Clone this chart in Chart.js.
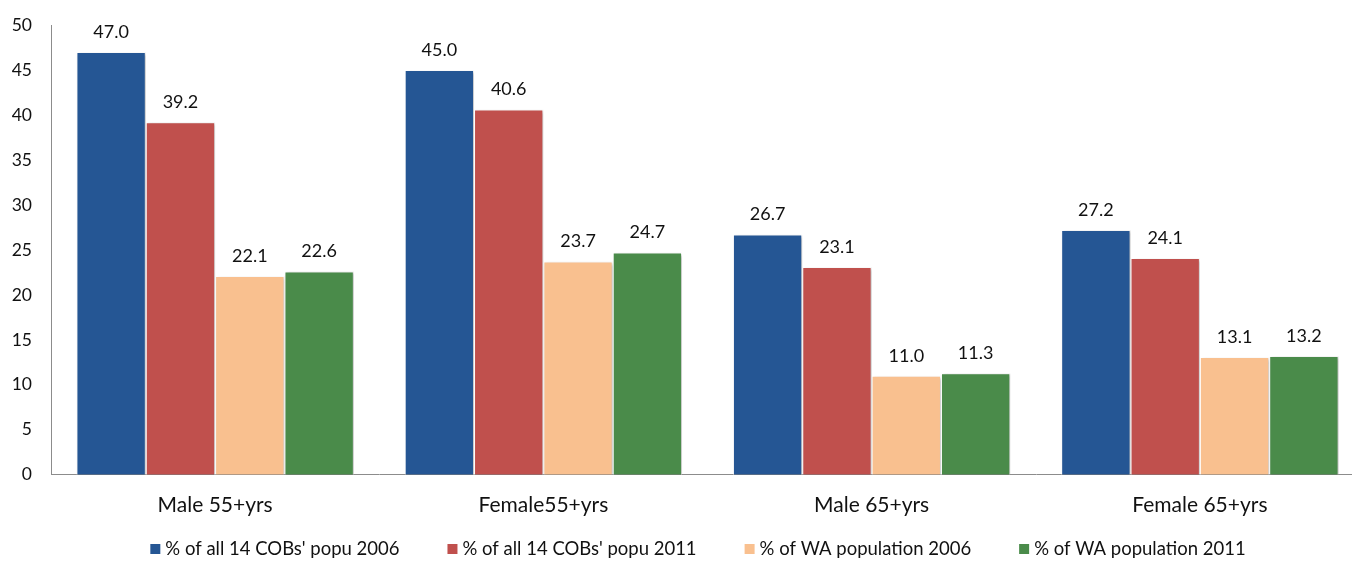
<!DOCTYPE html>
<html>
<head>
<meta charset="utf-8">
<script src="https://cdn.jsdelivr.net/npm/chart.js@4.4.1/dist/chart.umd.min.js"></script>
<style>
  html, body { margin: 0; padding: 0; background: #fff; overflow: hidden; }
  #wrap { width: 1364px; height: 561px; }
</style>
</head>
<body>
<div id="wrap"><canvas id="age-chart"></canvas></div>
<script>
var categories = ['Male 55+yrs', 'Female55+yrs', 'Male 65+yrs', 'Female 65+yrs'];
var seriesNames = [
    "% of all 14 COBs' popu 2006",
    "% of all 14 COBs' popu 2011",
    '% of WA population 2006',
    '% of WA population 2011'
];
var cobs2006 = [47.0, 45.0, 26.7, 27.2];
var cobs2011 = [39.2, 40.6, 23.1, 24.1];
var wa2006 = [22.1, 23.7, 11.0, 13.1];
var wa2011 = [22.6, 24.7, 11.3, 13.2];
var yTicks = [0, 5, 10, 15, 20, 25, 30, 35, 40, 45, 50];

var colors = ['#255694', '#c0504d', '#f9c08f', '#4a8b4a'];
var values = [cobs2006, cobs2011, wa2006, wa2011];

var FONT = 'Lato, Calibri, "Liberation Sans", sans-serif';

// soft drop shadow under the bars
var barShadow = {
    id: 'barShadow',
    beforeDatasetsDraw: function(chart) {
        var ctx = chart.ctx;
        ctx.save();
        ctx.shadowColor = 'rgba(0,0,0,0.25)';
        ctx.shadowBlur = 3;
        ctx.shadowOffsetX = 2;
        ctx.shadowOffsetY = 1;
    },
    afterDatasetsDraw: function(chart) {
        chart.ctx.restore();
    }
};

// value written above each bar
var valueLabels = {
    id: 'valueLabels',
    afterDatasetsDraw: function(chart) {
        var ctx = chart.ctx;
        ctx.save();
        ctx.font = '18px ' + FONT;
        ctx.fillStyle = '#111';
        ctx.textAlign = 'center';
        ctx.textBaseline = 'middle';
        chart.data.datasets.forEach(function(ds, i) {
            chart.getDatasetMeta(i).data.forEach(function(bar, j) {
                ctx.fillText(ds.data[j].toFixed(1), bar.x, bar.y - 20);
            });
        });
        ctx.restore();
    }
};

// legend row under the axis, wider spacing than the built-in one allows
var legendRow = {
    id: 'legendRow',
    afterDraw: function(chart, args, opts) {
        var ctx = chart.ctx;
        ctx.save();
        ctx.font = opts.fontSize + 'px ' + FONT;
        ctx.textBaseline = 'middle';
        ctx.textAlign = 'left';
        var items = chart.data.datasets.map(function(ds) {
            return { text: ds.label, color: ds.backgroundColor, w: ctx.measureText(ds.label).width };
        });
        var total = 0;
        items.forEach(function(it, i) {
            total += opts.box + opts.boxGap + it.w + (i ? opts.gap : 0);
        });
        var x = opts.centerX - total / 2;
        items.forEach(function(it) {
            ctx.fillStyle = it.color;
            ctx.fillRect(x, opts.y - opts.box / 2, opts.box, opts.box);
            ctx.fillStyle = '#111';
            ctx.fillText(it.text, x + opts.box + opts.boxGap, opts.y);
            x += opts.box + opts.boxGap + it.w + opts.gap;
        });
        ctx.restore();
    }
};

var datasets = seriesNames.map(function(name, i) {
    return {
        label: name,
        data: values[i],
        backgroundColor: colors[i],
        borderColor: '#ffffff',
        borderWidth: { left: 1, right: 1, top: 1, bottom: 0 },
        categoryPercentage: 0.845,
        barPercentage: 1.0
    };
});

var ctx = document.getElementById('age-chart').getContext('2d');
var ageChart = new Chart(ctx, {
    type: 'bar',
    data: { labels: categories, datasets: datasets },
    options: {
        responsive: true,
        maintainAspectRatio: false,
        animation: false,
        layout: { padding: { top: 25, left: 0, right: 0, bottom: 25 } },
        plugins: {
            tooltip: { enabled: false },
            legend: { display: false },
            legendRow: { y: 549, centerX: 698, box: 10, boxGap: 5, gap: 48, fontSize: 18.5 }
        },
        scales: {
            x: {
                grid: { display: false, drawTicks: false },
                border: { display: true, color: '#8c8c8c', width: 1 },
                ticks: { color: '#111', padding: 18, font: { family: FONT, size: 21 } }
            },
            y: {
                min: 0,
                max: 50,
                afterBuildTicks: function(axis) {
                    axis.ticks = yTicks.map(function(v) { return { value: v }; });
                },
                afterFit: function(axis) {
                    axis.width = 51;
                    axis.paddingTop = 0;
                    axis.paddingBottom = 0;
                },
                grid: { display: false, drawTicks: false },
                border: { display: true, color: '#8c8c8c', width: 1 },
                ticks: { color: '#111', padding: 19, font: { family: FONT, size: 17.5 } }
            }
        }
    },
    plugins: [barShadow, valueLabels, legendRow]
});
</script>
</body>
</html>
